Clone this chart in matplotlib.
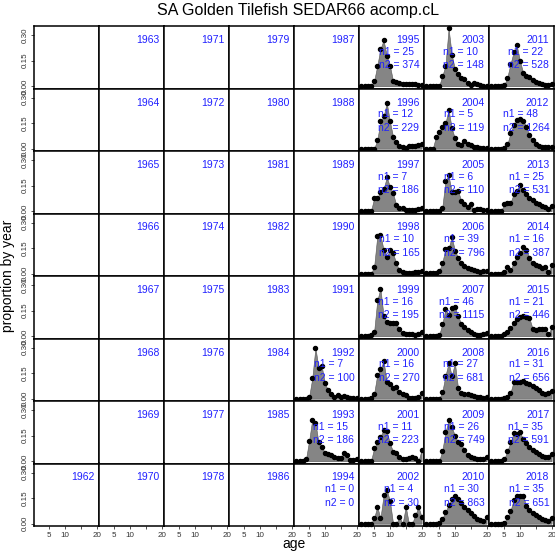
import matplotlib
matplotlib.use("Agg")
import matplotlib.pyplot as plt

plt.rcParams['font.family'] = ['Liberation Sans', 'DejaVu Sans']

ages = list(range(1, 21))
first_year = 1962
last_year = 2018

# proportions at age
p1992 = [0, 0, 0, 0, 0.01, 0.12, 0.30, 0.18, 0.19, 0.09, 0.05, 0.025, 0.008, 0.022, 0.012, 0.015, 0.008, 0.005, 0.003, 0.003]
p1993 = [0, 0, 0, 0.01, 0.12, 0.245, 0.225, 0.11, 0.085, 0.05, 0.045, 0.035, 0.027, 0.02, 0.02, 0.05, 0.035, 0.005, 0.008, 0.012]
p1995 = [0, 0, 0, 0, 0.03, 0.12, 0.22, 0.27, 0.18, 0.12, 0.03, 0.025, 0.02, 0.015, 0.012, 0.01, 0.01, 0.01, 0.008, 0.008]
p1996 = [0, 0, 0, 0, 0, 0.05, 0.16, 0.19, 0.27, 0.16, 0.07, 0.037, 0.016, 0.008, 0.005, 0.018, 0.018, 0.018, 0.02, 0.03]
p1997 = [0, 0, 0, 0, 0.075, 0.08, 0.115, 0.13, 0.2, 0.145, 0.105, 0.036, 0.02, 0.02, 0.005, 0.005, 0.005, 0.005, 0.01, 0.02]
p1998 = [0, 0, 0, 0, 0.04, 0.22, 0.23, 0.14, 0.1, 0.14, 0.12, 0.06, 0.02, 0.012, 0.006, 0.006, 0.006, 0.01, 0.012, 0.018]
p1999 = [0, 0, 0, 0.005, 0.025, 0.21, 0.28, 0.12, 0.085, 0.075, 0.075, 0.075, 0.04, 0.02, 0.015, 0.01, 0.01, 0.005, 0.01, 0.025]
p2000 = [0, 0, 0, 0.005, 0.03, 0.14, 0.175, 0.22, 0.1, 0.085, 0.06, 0.07, 0.04, 0.03, 0.02, 0.005, 0.004, 0.004, 0.01, 0.032]
p2001 = [0, 0, 0, 0, 0.075, 0.115, 0.145, 0.185, 0.175, 0.105, 0.056, 0.05, 0.027, 0.012, 0.012, 0.017, 0.022, 0.017, 0, 0.066]
p2002 = [0, 0, 0, 0, 0.033, 0.1, 0.033, 0.167, 0.2, 0.133, 0, 0, 0.04, 0, 0.1, 0, 0, 0.05, 0.1, 0.04]
p2003 = [0, 0, 0, 0, 0, 0.06, 0.12, 0.34, 0.185, 0.1, 0.07, 0.05, 0.04, 0.02, 0.007, 0.02, 0.012, 0.005, 0.003, 0.003]
p2004 = [0, 0, 0, 0.07, 0.1, 0.13, 0.15, 0.23, 0.12, 0.06, 0.03, 0.02, 0.045, 0.025, 0.02, 0.01, 0.008, 0.005, 0.005, 0.005]
p2005 = [0, 0, 0, 0, 0, 0.02, 0.18, 0.21, 0.11, 0.11, 0.12, 0.06, 0.04, 0.025, 0.04, 0.005, 0.012, 0.01, 0.005, 0.008]
p2006 = [0.003, 0.003, 0.003, 0.005, 0.015, 0.065, 0.145, 0.15, 0.215, 0.135, 0.095, 0.06, 0.045, 0.035, 0.025, 0.02, 0.015, 0.01, 0.015, 0.015]
p2007 = [0, 0, 0, 0, 0.005, 0.07, 0.16, 0.125, 0.165, 0.17, 0.12, 0.07, 0.055, 0.035, 0.022, 0.012, 0.008, 0.008, 0.01, 0.02]
p2008 = [0, 0, 0, 0, 0, 0.04, 0.135, 0.21, 0.135, 0.21, 0.06, 0.035, 0.03, 0.025, 0.02, 0.015, 0.01, 0.008, 0.006, 0.01]
p2009 = [0, 0, 0, 0, 0, 0.06, 0.17, 0.24, 0.2, 0.15, 0.11, 0.1, 0.066, 0.036, 0.025, 0.018, 0.012, 0.01, 0.015, 0.025]
p2010 = [0, 0, 0, 0, 0.003, 0.03, 0.07, 0.11, 0.145, 0.16, 0.145, 0.12, 0.1, 0.08, 0.06, 0.045, 0.03, 0.02, 0.015, 0.04]
p2011 = [0, 0, 0, 0, 0.005, 0.05, 0.13, 0.2, 0.24, 0.15, 0.08, 0.06, 0.055, 0.035, 0.025, 0.018, 0.01, 0.005, 0.008, 0.015]
p2012 = [0, 0, 0, 0, 0.005, 0.025, 0.09, 0.14, 0.17, 0.175, 0.165, 0.13, 0.08, 0.05, 0.028, 0.018, 0.012, 0.01, 0.01, 0.01]
p2013 = [0, 0, 0, 0, 0.04, 0.048, 0.05, 0.1, 0.12, 0.155, 0.125, 0.1, 0.08, 0.065, 0.05, 0.04, 0.03, 0.022, 0.015, 0.03]
p2014 = [0, 0, 0, 0, 0.01, 0.04, 0.02, 0.065, 0.1, 0.12, 0.155, 0.14, 0.095, 0.065, 0.05, 0.045, 0.033, 0.04, 0.012, 0.05]
p2015 = [0, 0, 0, 0, 0.01, 0.025, 0.05, 0.08, 0.1, 0.115, 0.12, 0.115, 0.105, 0.045, 0.037, 0.04, 0.045, 0.045, 0.01, 0.055]
p2016 = [0, 0, 0, 0, 0.002, 0.012, 0.035, 0.1, 0.1, 0.1, 0.105, 0.095, 0.088, 0.075, 0.062, 0.05, 0.035, 0.025, 0.033, 0.048]
p2017 = [0, 0, 0, 0, 0.01, 0.06, 0.11, 0.165, 0.16, 0.17, 0.13, 0.105, 0.085, 0.066, 0.055, 0.04, 0.03, 0.022, 0.025, 0.045]
p2018 = [0, 0, 0, 0, 0.005, 0.04, 0.075, 0.14, 0.16, 0.165, 0.165, 0.105, 0.08, 0.062, 0.05, 0.04, 0.03, 0.022, 0.017, 0.035]

comp = {1992: p1992, 1993: p1993, 1995: p1995, 1996: p1996, 1997: p1997,
        1998: p1998, 1999: p1999, 2000: p2000, 2001: p2001, 2002: p2002,
        2003: p2003, 2004: p2004, 2005: p2005, 2006: p2006, 2007: p2007,
        2008: p2008, 2009: p2009, 2010: p2010, 2011: p2011, 2012: p2012,
        2013: p2013, 2014: p2014, 2015: p2015, 2016: p2016, 2017: p2017,
        2018: p2018}

n_years = list(range(1992, 2019))
n1 = [7, 15, 0, 25, 12, 7, 10, 16, 16, 11, 4, 10, 5, 6, 39, 46, 27, 26, 30, 22, 48, 25, 16, 21, 31, 35, 35]
n2 = [100, 186, 0, 374, 229, 186, 165, 195, 270, 223, 30, 148, 119, 110, 796, 1115, 681, 749, 863, 528, 1264, 531, 387, 446, 656, 591, 651]

# layout in pixels
W, H = 555, 551
gx0, gy0 = 34, 26
pw, ph = 65, 62.5
ncol, nrow = 8, 8

fig = plt.figure(figsize=(W / 100, H / 100), dpi=100)

blue = '#2020ff'
axes = {}
for c in range(ncol):
    for r in range(nrow):
        left = (gx0 + pw * c) / W
        bottom = 1 - (gy0 + ph * (r + 1)) / H
        ax = fig.add_axes([left, bottom, pw / W, ph / H])
        ax.set_xlim(0.24, 20.76)
        ax.set_ylim(-0.0136, 0.354)
        for s in ax.spines.values():
            s.set_linewidth(1.1)
        ax.tick_params(length=2.5, width=0.6, labelsize=5.8, colors='#333333', pad=1.5)
        ax.set_xticks([5, 10, 15, 20])
        ax.set_yticks([0, 0.15, 0.30])
        if r == nrow - 1:
            ax.set_xticklabels(['5', '10', '', '20'])
        else:
            ax.tick_params(axis='x', bottom=False, labelbottom=False)
        if c == 0:
            ax.set_yticklabels(['0.00', '0.15', '0.30'], rotation=90, va='center')
        else:
            ax.tick_params(axis='y', left=False, labelleft=False)
        axes[(c, r)] = ax

for yr in range(first_year, last_year + 1):
    idx = yr - first_year + 7
    c, r = idx // nrow, idx % nrow
    ax = axes[(c, r)]
    if yr in comp:
        vals = comp[yr]
        ax.fill_between(ages, vals, 0, color='#858585', linewidth=0.4, edgecolor='#555555')
        ax.plot(ages, vals, 'o', color='black', ms=2.9, clip_on=False, zorder=5)
    ax.text(1 - 4.7 / pw, 1 - 14 / ph, str(yr), transform=ax.transAxes,
            ha='right', va='center', color=blue, fontsize=7.5, zorder=6)
    if yr in n_years:
        k = n_years.index(yr)
        ax.text(1 - 4.7 / pw, 1 - 32.5 / ph, 'n1 = %d\nn2 = %d' % (n1[k], n2[k]),
                transform=ax.transAxes, ha='right', va='center', multialignment='left',
                color=blue, fontsize=7.5, linespacing=1.45, zorder=6)

fig.text(298 / W, 1 - 11 / H, 'SA Golden Tilefish SEDAR66 acomp.cL',
         ha='center', va='center', fontsize=11.5)
fig.text((gx0 + pw * ncol / 2) / W, 1 - 544 / H, 'age', ha='center', va='center', fontsize=10)
fig.text(8 / W, 1 - (gy0 + ph * nrow / 2) / H, 'proportion by year', rotation=90,
         ha='center', va='center', fontsize=10)

fig.savefig('out.png', dpi=100)
